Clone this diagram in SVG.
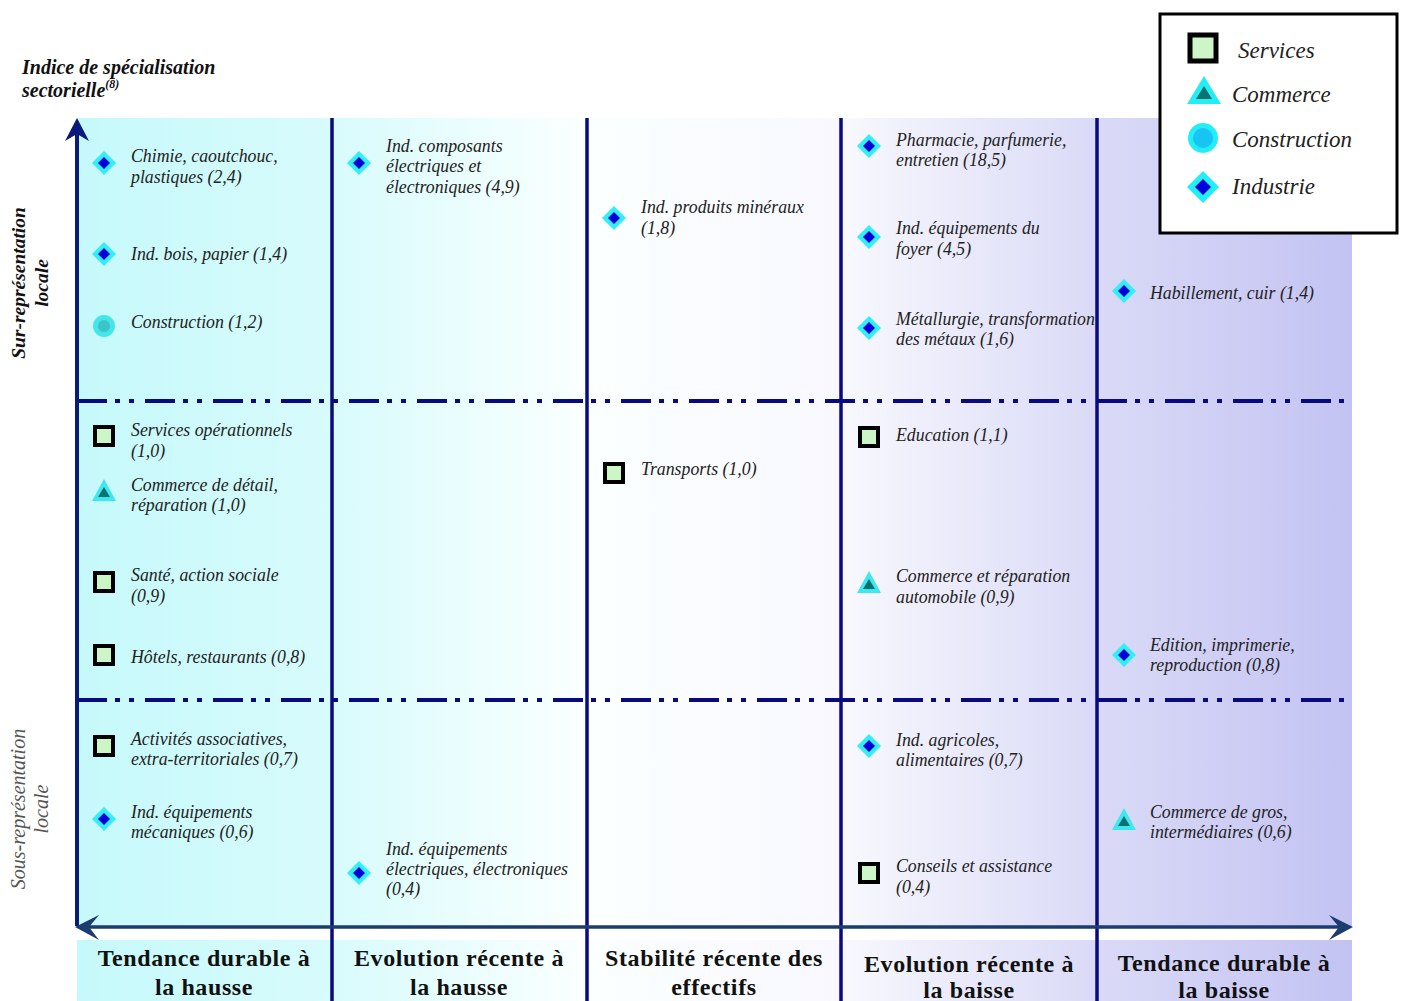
<svg xmlns="http://www.w3.org/2000/svg" width="1404" height="1001" viewBox="0 0 1404 1001">
<defs>
<linearGradient id="bg" gradientUnits="userSpaceOnUse" x1="77" y1="0" x2="1352" y2="0">
<stop offset="0" stop-color="#c6f9fb"/>
<stop offset="0.2" stop-color="#d8fbfc"/>
<stop offset="0.4" stop-color="#fbffff"/>
<stop offset="0.6" stop-color="#f8f8fe"/>
<stop offset="0.8" stop-color="#dadaf7"/>
<stop offset="1" stop-color="#c3c3f3"/>
</linearGradient>
<g id="dia"><polygon points="0,-12 12,0 0,12 -12,0" fill="#33eef6"/><polygon points="0,-6 6,0 0,6 -6,0" fill="#0000d8"/></g>
<g id="tri"><polygon points="0,-12 12,10 -12,10" fill="#3ee8ee"/><polygon points="0,-4 6,6 -6,6" fill="#0a7272"/></g>
<g id="sq"><rect x="-9" y="-9" width="18" height="18" fill="#ccf5c8" stroke="#000" stroke-width="4"/></g>
<g id="cir"><circle r="11" fill="#45e6ea"/><circle r="6" fill="#38c4c8"/></g>
</defs>
<style>
.t{font-family:"Liberation Serif","Times New Roman",serif;font-style:italic;font-size:17.8px;fill:#222}
.lg{font-family:"Liberation Serif","Times New Roman",serif;font-style:italic;font-size:23px;fill:#222}
.b{font-family:"Liberation Serif","Times New Roman",serif;font-weight:bold;font-size:24px;letter-spacing:0.6px;fill:#111;text-anchor:middle}
.hd{font-family:"Liberation Serif","Times New Roman",serif;font-style:italic;font-weight:bold;font-size:20px;fill:#111}
.col{stroke:#0a0a80;stroke-width:3.5;fill:none}
.dd{stroke:#0a0a80;stroke-width:4;fill:none;stroke-dasharray:30 8 5 9 5 11}
</style>
<rect width="1404" height="1001" fill="#fff"/>
<rect x="77" y="118" width="1275" height="808" fill="url(#bg)"/>
<rect x="77" y="940" width="1275" height="61" fill="url(#bg)"/>

<g id="title">
<text class="hd" x="22" y="74">Indice de spécialisation</text>
<text class="hd" x="22" y="97">sectorielle<tspan font-size="12" dy="-9">(8)</tspan></text>
</g>
<g id="axis-labels">
<text transform="translate(25,283) rotate(-90)" text-anchor="middle" font-family="Liberation Serif,serif" font-style="italic" font-weight="bold" font-size="19.5" fill="#111">Sur-représentation</text>
<text transform="translate(48,283) rotate(-90)" text-anchor="middle" font-family="Liberation Serif,serif" font-style="italic" font-weight="bold" font-size="19.5" fill="#111">locale</text>
<text transform="translate(25,809) rotate(-90)" text-anchor="middle" font-family="Liberation Serif,serif" font-style="italic" font-size="20" fill="#555">Sous-représentation</text>
<text transform="translate(48,809) rotate(-90)" text-anchor="middle" font-family="Liberation Serif,serif" font-style="italic" font-size="20" fill="#555">locale</text>
</g>

<g id="connectors">
<line class="dd" x1="77" y1="401" x2="1352" y2="401"/>
<line class="dd" x1="77" y1="700" x2="1352" y2="700"/>
<line class="col" x1="332" y1="118" x2="332" y2="1001"/>
<line class="col" x1="587" y1="118" x2="587" y2="1001"/>
<line class="col" x1="841" y1="118" x2="841" y2="1001"/>
<line class="col" x1="1097" y1="118" x2="1097" y2="1001"/>
<line x1="77" y1="926" x2="77" y2="130" stroke="#0a1a78" stroke-width="4"/>
<path d="M77,118 L89,141 L77,134 L65,141 Z" fill="#0a1a78"/>
<line x1="86" y1="927" x2="1342" y2="927" stroke="#1c3c70" stroke-width="3.5"/>
<path d="M75,927 L99,915 L89,927 L99,940 Z" fill="#1c3c70"/>
<path d="M1353,927 L1329,915 L1339,927 L1329,940 Z" fill="#1c3c70"/>
</g>

<g id="bottom-labels">
<text class="b" x="204" y="966">Tendance durable à</text><text class="b" x="204" y="995">la hausse</text>
<text class="b" x="459" y="966">Evolution récente à</text><text class="b" x="459" y="995">la hausse</text>
<text class="b" x="714" y="966">Stabilité récente des</text><text class="b" x="714" y="995">effectifs</text>
<text class="b" x="969" y="972">Evolution récente à</text><text class="b" x="969" y="998">la baisse</text>
<text class="b" x="1224" y="971">Tendance durable à</text><text class="b" x="1224" y="998">la baisse</text>
</g>

<g id="legend">
<rect x="1160" y="14" width="237" height="219" fill="#fff" stroke="#000" stroke-width="3"/>
<rect x="1190" y="35" width="26" height="26" fill="#ccf5c8" stroke="#000" stroke-width="5"/>
<text class="lg" x="1238" y="58">Services</text>
<polygon points="1204,76 1221,104 1187,104" fill="#22eef4"/><polygon points="1204,86 1212,99 1196,99" fill="#0a7272"/>
<text class="lg" x="1232" y="102">Commerce</text>
<circle cx="1203" cy="138" r="15" fill="#22eef8"/><circle cx="1203" cy="138" r="10" fill="#18c4f4"/>
<text class="lg" x="1232" y="147">Construction</text>
<polygon points="1203,171 1219,187 1203,203 1187,187" fill="#22eef8"/><polygon points="1203,179 1211,187 1203,195 1195,187" fill="#0000d8"/>
<text class="lg" x="1232" y="194">Industrie</text>
</g>

<g id="n-chimie"><use href="#dia" x="104" y="163"/><text class="t" x="131" y="162">Chimie, caoutchouc,</text><text class="t" x="131" y="183">plastiques (2,4)</text></g>
<g id="n-bois"><use href="#dia" x="104" y="254"/><text class="t" x="131" y="260">Ind. bois, papier (1,4)</text></g>
<g id="n-construction"><use href="#cir" x="104" y="326"/><text class="t" x="131" y="328">Construction (1,2)</text></g>
<g id="n-servop"><use href="#sq" x="104" y="436"/><text class="t" x="131" y="436">Services opérationnels</text><text class="t" x="131" y="457">(1,0)</text></g>
<g id="n-detail"><use href="#tri" x="104" y="491"/><text class="t" x="131" y="491">Commerce de détail,</text><text class="t" x="131" y="511">réparation (1,0)</text></g>
<g id="n-sante"><use href="#sq" x="104" y="582"/><text class="t" x="131" y="581">Santé, action sociale</text><text class="t" x="131" y="602">(0,9)</text></g>
<g id="n-hotels"><use href="#sq" x="104" y="655"/><text class="t" x="131" y="663">Hôtels, restaurants (0,8)</text></g>
<g id="n-assoc"><use href="#sq" x="104" y="746"/><text class="t" x="131" y="745">Activités associatives,</text><text class="t" x="131" y="765">extra-territoriales (0,7)</text></g>
<g id="n-meca"><use href="#dia" x="104" y="819"/><text class="t" x="131" y="818">Ind. équipements</text><text class="t" x="131" y="838">mécaniques (0,6)</text></g>

<g id="n-composants"><use href="#dia" x="359" y="163"/><text class="t" x="386" y="152">Ind. composants</text><text class="t" x="386" y="172">électriques et</text><text class="t" x="386" y="193">électroniques (4,9)</text></g>
<g id="n-elec"><use href="#dia" x="359" y="873"/><text class="t" x="386" y="855">Ind. équipements</text><text class="t" x="386" y="875">électriques, électroniques</text><text class="t" x="386" y="895">(0,4)</text></g>

<g id="n-mineraux"><use href="#dia" x="614" y="218"/><text class="t" x="641" y="213">Ind. produits minéraux</text><text class="t" x="641" y="234">(1,8)</text></g>
<g id="n-transports"><use href="#sq" x="614" y="473"/><text class="t" x="641" y="475">Transports (1,0)</text></g>

<g id="n-pharma"><use href="#dia" x="869" y="146"/><text class="t" x="896" y="146">Pharmacie, parfumerie,</text><text class="t" x="896" y="166">entretien (18,5)</text></g>
<g id="n-foyer"><use href="#dia" x="869" y="237"/><text class="t" x="896" y="234">Ind. équipements du</text><text class="t" x="896" y="255">foyer (4,5)</text></g>
<g id="n-metal"><use href="#dia" x="869" y="328"/><text class="t" x="896" y="325">Métallurgie, transformation</text><text class="t" x="896" y="345">des métaux (1,6)</text></g>
<g id="n-education"><use href="#sq" x="869" y="437"/><text class="t" x="896" y="441">Education (1,1)</text></g>
<g id="n-auto"><use href="#tri" x="869" y="583"/><text class="t" x="896" y="582">Commerce et réparation</text><text class="t" x="896" y="603">automobile (0,9)</text></g>
<g id="n-agri"><use href="#dia" x="869" y="746"/><text class="t" x="896" y="746">Ind. agricoles,</text><text class="t" x="896" y="766">alimentaires (0,7)</text></g>
<g id="n-conseils"><use href="#sq" x="869" y="873"/><text class="t" x="896" y="872">Conseils et assistance</text><text class="t" x="896" y="893">(0,4)</text></g>

<g id="n-habillement"><use href="#dia" x="1124" y="291"/><text class="t" x="1150" y="299">Habillement, cuir (1,4)</text></g>
<g id="n-edition"><use href="#dia" x="1124" y="655"/><text class="t" x="1150" y="651">Edition, imprimerie,</text><text class="t" x="1150" y="671">reproduction (0,8)</text></g>
<g id="n-gros"><use href="#tri" x="1124" y="820"/><text class="t" x="1150" y="818">Commerce de gros,</text><text class="t" x="1150" y="838">intermédiaires (0,6)</text></g>
</svg>
